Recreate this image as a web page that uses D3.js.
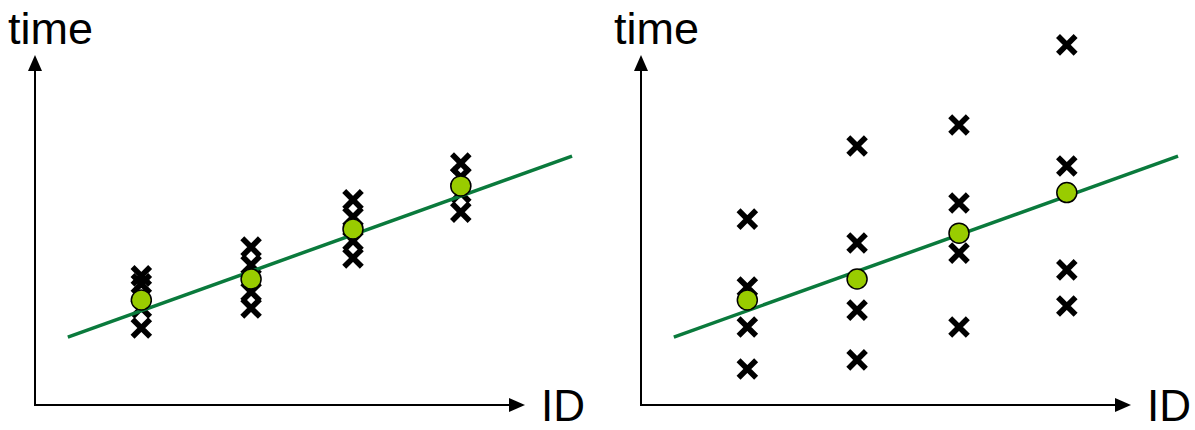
<!DOCTYPE html>
<html>
<head>
<meta charset="utf-8">
<script src="https://cdn.jsdelivr.net/npm/d3@7"></script>
<style>
  html, body { margin: 0; padding: 0; background: #ffffff; }
  svg { display: block; }
  text { font-family: "Liberation Sans", Arial, sans-serif; fill: #000; }
</style>
</head>
<body>
<svg id="chart" width="1195" height="430"></svg>
<script>
// ---- data (arbitrary units) ----
const ids = [21.7, 44.1, 64.9, 86.9];          // x positions of the four IDs
const leftTimes = [                              // repeated measurements, low variance
  [36.9, 34.6, 27.7, 22.0],
  [45.1, 40.0, 32.3, 27.7],
  [58.6, 53.7, 46.9, 42.0],
  [69.1, 65.1, 60.6, 55.1]
];
const leftMeans = [30.0, 36.0, 50.3, 62.6];
const rightTimes = [                             // repeated measurements, high variance
  [53.1, 33.7, 22.3, 10.3],
  [74.0, 46.3, 27.1, 12.9],
  [80.0, 57.7, 43.4, 22.3],
  [102.9, 68.3, 38.6, 28.3]
];
const rightMeans = [30.0, 36.0, 49.1, 60.7];
const trendX = [6.7, 109.6];
const trendY = [19.4, 71.1];
const axisLabels = ["time", "ID"];

// ---- drawing ----
const svg = d3.select("#chart");
const panels = [
  { axisX: 35, times: leftTimes, means: leftMeans },
  { axisX: 641, times: rightTimes, means: rightMeans }
];
const baseY = 405;

panels.forEach(p => {
  const x = d3.scaleLinear().domain([0, 100]).range([p.axisX, p.axisX + 490]);
  const y = d3.scaleLinear().domain([0, 100]).range([baseY, 55]);
  const g = svg.append("g");

  // axes
  const x0 = x(0), x1 = x(100), y0 = y(0), y1 = y(100);
  g.append("line").attr("x1", x0).attr("y1", y0 + 1).attr("x2", x0).attr("y2", y1 + 14)
    .attr("stroke", "#000").attr("stroke-width", 2);
  g.append("path").attr("d", `M${x0},${y1} L${x0 + 7},${y1 + 16} L${x0 - 7},${y1 + 16} Z`).attr("fill", "#000");
  g.append("line").attr("x1", x0 - 1).attr("y1", y0).attr("x2", x1 - 14).attr("y2", y0)
    .attr("stroke", "#000").attr("stroke-width", 2);
  g.append("path").attr("d", `M${x1},${y0} L${x1 - 16},${y0 - 7} L${x1 - 16},${y0 + 7} Z`).attr("fill", "#000");

  g.append("text").attr("x", x0 - 27).attr("y", 44).attr("font-size", 45).text(axisLabels[0]);
  g.append("text").attr("x", x1 + 16).attr("y", 421).attr("font-size", 44).text(axisLabels[1]);

  // crosses
  const pts = [];
  p.times.forEach((arr, i) => arr.forEach(v => pts.push({ id: ids[i], t: v })));
  const s = 8.8;
  g.selectAll("path.cross").data(pts).enter().append("path")
    .attr("class", "cross")
    .attr("d", `M${-s},${-s}L${s},${s}M${-s},${s}L${s},${-s}`)
    .attr("transform", d => `translate(${x(d.id)},${y(d.t)})`)
    .attr("stroke", "#000").attr("stroke-width", 5.6).attr("fill", "none");

  // trend line
  const line = d3.line().x(d => x(d[0])).y(d => y(d[1]));
  g.append("path").attr("d", line(d3.zip(trendX, trendY)))
    .attr("stroke", "#0a7a3c").attr("stroke-width", 3.5).attr("fill", "none");

  // means
  g.selectAll("circle.mean").data(p.means).enter().append("circle")
    .attr("class", "mean")
    .attr("cx", (d, i) => x(ids[i])).attr("cy", d => y(d)).attr("r", 10)
    .attr("fill", "#99cc00").attr("stroke", "#000").attr("stroke-width", 1.5);
});
</script>
</body>
</html>
